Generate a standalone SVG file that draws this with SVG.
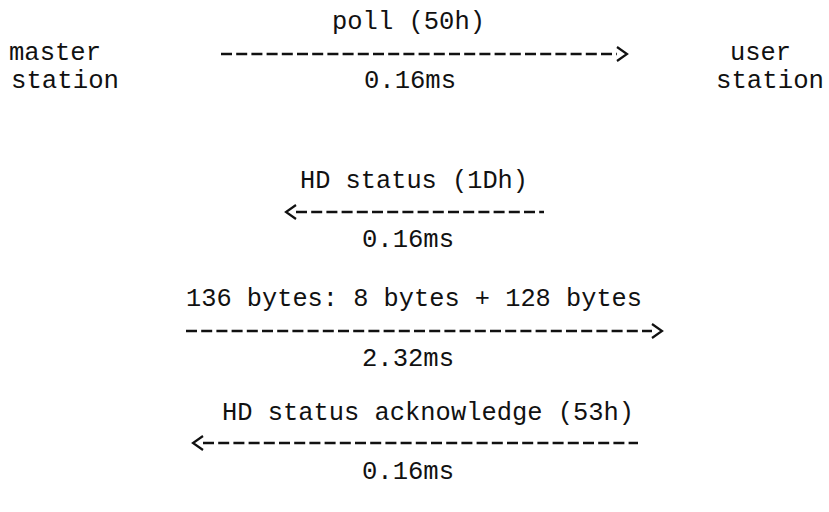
<svg xmlns="http://www.w3.org/2000/svg" width="829" height="512" viewBox="0 0 829 512">
<style>
text{font-family:"Liberation Mono","DejaVu Sans Mono",monospace;font-size:25px;fill:#111}
.dash{stroke:#111;stroke-width:2.7;stroke-dasharray:11 4.2;fill:none}
.head{stroke:#111;stroke-width:2.2;fill:none}
</style>
<rect width="829" height="512" fill="#fff"/>
<g id="master">
<text x="9" y="60" textLength="92" lengthAdjust="spacingAndGlyphs">master</text>
<text x="11" y="88" textLength="108" lengthAdjust="spacingAndGlyphs">station</text>
</g>
<g id="user">
<text x="730" y="60" textLength="61" lengthAdjust="spacingAndGlyphs">user</text>
<text x="716" y="88" textLength="108" lengthAdjust="spacingAndGlyphs">station</text>
</g>
<g id="connectors">
<text x="332" y="29" textLength="153" lengthAdjust="spacingAndGlyphs">poll (50h)</text>
<line class="dash" x1="221" y1="54" x2="617" y2="54"/>
<polyline class="head" points="617,47 627,54 617,61"/>
<text x="364" y="88" textLength="92" lengthAdjust="spacingAndGlyphs">0.16ms</text>

<text x="300" y="188" textLength="228" lengthAdjust="spacingAndGlyphs">HD status (1Dh)</text>
<line class="dash" x1="296" y1="212" x2="544" y2="212"/>
<polyline class="head" points="296,205 286,212 296,219"/>
<text x="362" y="247" textLength="92" lengthAdjust="spacingAndGlyphs">0.16ms</text>

<text x="186" y="306" textLength="456" lengthAdjust="spacingAndGlyphs">136 bytes: 8 bytes + 128 bytes</text>
<line class="dash" x1="186" y1="331" x2="652" y2="331"/>
<polyline class="head" points="652,324 662,331 652,338"/>
<text x="362" y="366" textLength="92" lengthAdjust="spacingAndGlyphs">2.32ms</text>

<text x="222" y="420" textLength="412" lengthAdjust="spacingAndGlyphs">HD status acknowledge (53h)</text>
<line class="dash" x1="203" y1="443" x2="638" y2="443"/>
<polyline class="head" points="203,436 193,443 203,450"/>
<text x="362" y="479" textLength="92" lengthAdjust="spacingAndGlyphs">0.16ms</text>
</g>
</svg>
